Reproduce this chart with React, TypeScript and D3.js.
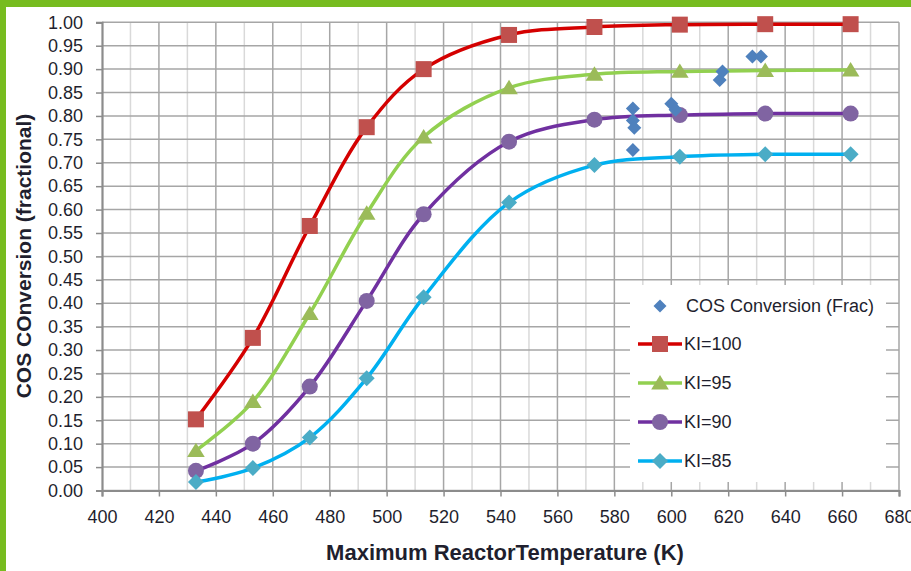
import React, { useEffect, useRef } from "react";
import * as d3 from "d3";

// reactor temperature (K) for the model curves
const temps = [433, 453, 473, 493, 513, 543, 573, 603, 633, 663];
const ki100 = [0.152, 0.326, 0.565, 0.776, 0.9, 0.973, 0.99, 0.995, 0.996, 0.996];
const ki95 = [0.085, 0.19, 0.378, 0.592, 0.755, 0.86, 0.889, 0.895, 0.897, 0.898];
const ki90 = [0.042, 0.1, 0.222, 0.405, 0.59, 0.745, 0.792, 0.802, 0.805, 0.805];
const ki85 = [0.018, 0.048, 0.113, 0.24, 0.413, 0.615, 0.695, 0.713, 0.718, 0.718];

// measured points
const cosTemps = [586.5, 586.5, 587, 586.5, 600, 601.5, 617, 618, 628.5, 631.5];
const cosValues = [0.816, 0.79, 0.775, 0.727, 0.826, 0.813, 0.877, 0.895, 0.927, 0.927];

const seriesNames = ["KI=100", "KI=95", "KI=90", "KI=85"];
const scatterName = "COS Conversion (Frac)";

const W = 911, H = 571;
const font = "'Liberation Sans', Arial, sans-serif";
const textColor = "#1f1f2e";

const square = (s: number) => `M${-s},${-s}H${s}V${s}H${-s}Z`;
const triangle = (s: number) => `M0,${-s}L${s * 1.1},${s * 0.8}H${-s * 1.1}Z`;
const diamond = (s: number) => `M0,${-s}L${s},0L0,${s}L${-s},0Z`;
const circle = (s: number) => `M${s},0A${s},${s} 0 1,1 ${-s},0A${s},${s} 0 1,1 ${s},0Z`;

const App = () => {
    const ref = useRef<SVGSVGElement>(null);

    useEffect(() => {
        const svg = d3.select(ref.current);
        svg.selectAll("*").remove();

        const x = d3.scaleLinear().domain([400, 680]).range([102, 899]);
        const y = d3.scaleLinear().domain([0, 1]).range([490.5, 22.3]);

        svg.append("rect").attr("width", W).attr("height", H).attr("fill", "#fff");

        // grid
        const minorX = d3.range(410, 680, 20);
        const majorX = d3.range(420, 681, 20);
        const yTicks = d3.range(0, 1.0001, 0.05);

        svg.append("g").selectAll("line").data(minorX).enter().append("line")
            .attr("x1", d => x(d)).attr("x2", d => x(d))
            .attr("y1", y(1)).attr("y2", y(0))
            .attr("stroke", "#d9d9d9").attr("stroke-width", 1.5);
        svg.append("g").selectAll("line").data(majorX).enter().append("line")
            .attr("x1", d => x(d)).attr("x2", d => x(d))
            .attr("y1", y(1)).attr("y2", y(0))
            .attr("stroke", "#a6a6a6").attr("stroke-width", 1.5);
        svg.append("g").selectAll("line").data(yTicks).enter().append("line")
            .attr("x1", x(400)).attr("x2", x(680))
            .attr("y1", d => y(d)).attr("y2", d => y(d))
            .attr("stroke", "#a6a6a6").attr("stroke-width", 1.5);

        // axes
        const yAxis = d3.axisLeft(y).tickValues(yTicks).tickFormat(d3.format(".2f")).tickSize(6).tickPadding(13);
        const gy = svg.append("g").attr("transform", `translate(${x(400)},0)`).call(yAxis);
        const xAxis = d3.axisBottom(x).tickValues(d3.range(400, 681, 20)).tickFormat(d3.format("d")).tickSize(6).tickPadding(14);
        const gx = svg.append("g").attr("transform", `translate(0,${y(0)})`).call(xAxis);
        [gx, gy].forEach(g => {
            g.select(".domain").attr("stroke", "#8c8c8c").attr("stroke-width", 2.2);
            g.selectAll(".tick line").attr("stroke", "#8c8c8c").attr("stroke-width", 1.5);
            g.selectAll("text").attr("font-family", font).attr("font-size", 18).attr("fill", textColor);
        });

        // titles
        svg.append("text").attr("x", 505).attr("y", 560).attr("text-anchor", "middle")
            .attr("font-family", font).attr("font-weight", "bold").attr("font-size", 22).attr("fill", textColor)
            .text("Maximum ReactorTemperature (K)");
        svg.append("text").attr("transform", "translate(31,256) rotate(-90)").attr("text-anchor", "middle")
            .attr("font-family", font).attr("font-weight", "bold").attr("font-size", 21).attr("fill", textColor)
            .text("COS COnversion (fractional)");

        // legend background hides grid
        svg.append("rect").attr("x", 630).attr("y", 285).attr("width", 256).attr("height", 197).attr("fill", "#fff");

        const series = [
            { name: seriesNames[0], values: ki100, line: "#d40000", fill: "#c0504d", shape: square, size: 8 },
            { name: seriesNames[1], values: ki95, line: "#92d050", fill: "#9bbb59", shape: triangle, size: 8 },
            { name: seriesNames[2], values: ki90, line: "#7030a0", fill: "#8064a2", shape: circle, size: 8 },
            { name: seriesNames[3], values: ki85, line: "#00b0f0", fill: "#4bacc6", shape: diamond, size: 8 },
        ];

        const line = d3.line<number>()
            .x((_, i) => x(temps[i]))
            .y(d => y(d))
            .curve(d3.curveCatmullRom.alpha(0.5));

        series.forEach(s => {
            svg.append("path").attr("d", line(s.values)).attr("fill", "none")
                .attr("stroke", s.line).attr("stroke-width", 3.5);
            svg.append("g").selectAll("path").data(s.values).enter().append("path")
                .attr("transform", (d, i) => `translate(${x(temps[i])},${y(d)})`)
                .attr("d", s.shape(s.size)).attr("fill", s.fill);
        });

        svg.append("g").selectAll("path").data(cosValues).enter().append("path")
            .attr("transform", (d, i) => `translate(${x(cosTemps[i])},${y(d)})`)
            .attr("d", diamond(7)).attr("fill", "#4f81bd");

        // legend
        const lg = svg.append("g");
        lg.append("path").attr("transform", "translate(660,306)").attr("d", diamond(6.5)).attr("fill", "#4f81bd");
        lg.append("text").attr("x", 686).attr("y", 312).attr("font-family", font).attr("font-size", 18)
            .attr("fill", textColor).text(scatterName);
        series.forEach((s, i) => {
            const ly = 344 + i * 39;
            lg.append("line").attr("x1", 638).attr("x2", 682).attr("y1", ly).attr("y2", ly)
                .attr("stroke", s.line).attr("stroke-width", 3.5);
            lg.append("path").attr("transform", `translate(660,${ly})`).attr("d", s.shape(s.size)).attr("fill", s.fill);
            lg.append("text").attr("x", 684).attr("y", ly + 6).attr("font-family", font).attr("font-size", 18)
                .attr("fill", textColor).text(s.name);
        });

        // green frame
        svg.append("rect").attr("width", W).attr("height", 7).attr("fill", "#77bc1f");
        svg.append("rect").attr("width", 6).attr("height", H).attr("fill", "#77bc1f");
    }, []);

    return (
        <div style={{ position: "fixed", left: 0, top: 0 }}>
            <svg ref={ref} width={W} height={H} style={{ display: "block" }} />
        </div>
    );
};

export default App;
